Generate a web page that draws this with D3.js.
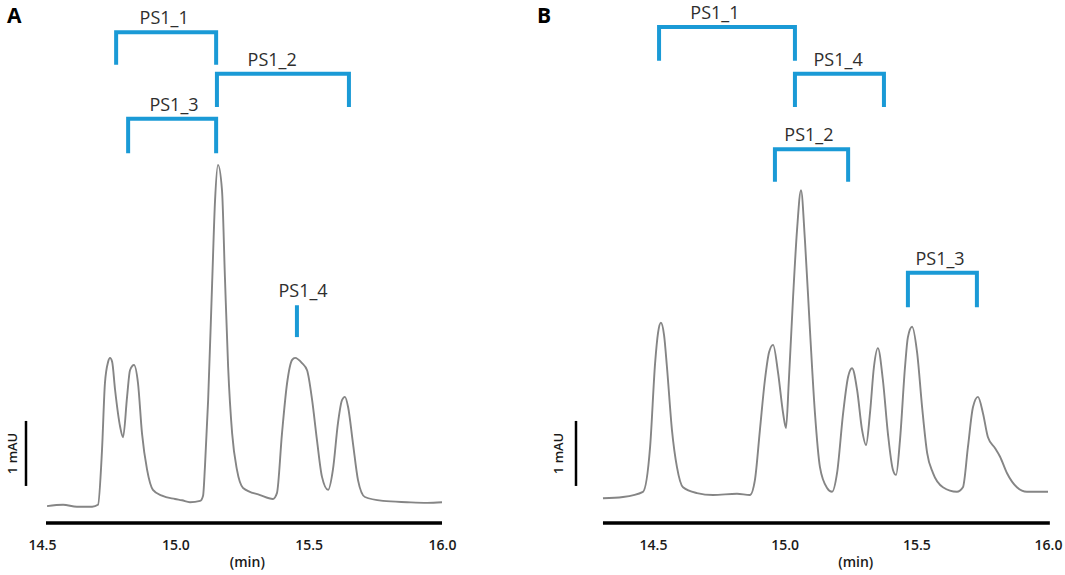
<!DOCTYPE html>
<html>
<head>
<meta charset="utf-8">
<script src="https://cdn.jsdelivr.net/npm/d3@7"></script>
<style>
  body { margin: 0; background: #fff; }
  svg { display: block; }
  text { font-family: "Open Sans", "Noto Sans", sans-serif; }
</style>
</head>
<body>
<svg></svg>
<script>

// retention time (min) and absorbance (mAU above baseline)
var timesA = [14.519, 14.579, 14.631, 14.688, 14.710, 14.725, 14.736, 14.748, 14.755, 14.763,
  14.774, 14.793, 14.804, 14.819, 14.830, 14.845, 14.860, 14.875, 14.894, 14.916,
  14.950, 14.999, 15.025, 15.055, 15.093, 15.104, 15.111, 15.123, 15.138, 15.149,
  15.160, 15.175, 15.186, 15.198, 15.213, 15.231, 15.254, 15.318, 15.366, 15.381,
  15.400, 15.419, 15.438, 15.449, 15.475, 15.494, 15.513, 15.531, 15.550, 15.573,
  15.591, 15.610, 15.625, 15.636, 15.648, 15.666, 15.685, 15.711, 15.779, 15.869,
  15.944, 16.000];
var signalA = [0.06, 0.08, 0.05, 0.05, 0.08, 0.92, 1.95, 2.28, 2.34, 2.28,
  1.85, 1.28, 1.12, 1.74, 2.15, 2.23, 1.95, 1.18, 0.62, 0.31,
  0.22, 0.17, 0.15, 0.12, 0.14, 0.22, 0.66, 1.69, 3.49, 4.77,
  5.31, 4.92, 3.58, 2.20, 1.18, 0.62, 0.34, 0.23, 0.17, 0.26,
  1.18, 1.95, 2.31, 2.34, 2.26, 2.15, 1.69, 1.08, 0.51, 0.31,
  0.62, 1.34, 1.69, 1.74, 1.58, 1.03, 0.46, 0.20, 0.14, 0.12,
  0.11, 0.12];

var timesB = [14.310, 14.386, 14.462, 14.489, 14.508, 14.519, 14.530, 14.542, 14.553, 14.572,
  14.591, 14.614, 14.667, 14.728, 14.819, 14.868, 14.887, 14.906, 14.925, 14.941,
  14.956, 14.975, 14.994, 15.005, 15.016, 15.032, 15.047, 15.062, 15.077, 15.096,
  15.115, 15.134, 15.161, 15.180, 15.199, 15.222, 15.241, 15.256, 15.275, 15.294,
  15.309, 15.324, 15.339, 15.354, 15.373, 15.392, 15.411, 15.423, 15.438, 15.457,
  15.468, 15.484, 15.503, 15.522, 15.541, 15.563, 15.601, 15.654, 15.677, 15.696,
  15.715, 15.734, 15.753, 15.772, 15.799, 15.818, 15.844, 15.882, 15.920, 16.000];
var signalB = [0.18, 0.20, 0.28, 0.97, 2.26, 2.72, 2.88, 2.69, 2.20, 1.23,
  0.66, 0.35, 0.26, 0.23, 0.25, 0.23, 0.46, 1.23, 2.00, 2.43,
  2.54, 2.11, 1.49, 1.26, 2.00, 3.28, 4.31, 4.92, 4.15, 2.77,
  1.49, 0.66, 0.34, 0.28, 0.57, 1.49, 2.05, 2.18, 1.85, 1.23,
  1.00, 1.49, 2.20, 2.49, 2.00, 1.18, 0.62, 0.54, 1.08, 2.20,
  2.66, 2.82, 2.42, 1.58, 0.88, 0.57, 0.35, 0.28, 0.35, 0.97,
  1.58, 1.74, 1.49, 1.12, 0.95, 0.82, 0.57, 0.35, 0.28, 0.28];

var tickValues = [14.5, 15.0, 15.5, 16.0];

// fraction brackets: time span, top / leg end (mAU) and label centre (min)
var bracketsA = [
  { label: "PS1_1", start: 14.778, end: 15.153, top: 7.35, bottom: 6.85, labelAt: 14.958 },
  { label: "PS1_2", start: 15.156, end: 15.651, top: 6.71, bottom: 6.20, labelAt: 15.363 },
  { label: "PS1_3", start: 14.823, end: 15.153, top: 6.02, bottom: 5.49, labelAt: 14.995 },
  { label: "PS1_4", start: 15.456, end: 15.456, top: 3.15, bottom: 2.66, labelAt: 15.479 }
];
var bracketsB = [
  { label: "PS1_1", start: 14.523, end: 15.039, top: 7.43, bottom: 6.91, labelAt: 14.735 },
  { label: "PS1_4", start: 15.039, end: 15.377, top: 6.71, bottom: 6.20, labelAt: 15.203 },
  { label: "PS1_2", start: 14.963, end: 15.241, top: 5.55, bottom: 5.05, labelAt: 15.092 },
  { label: "PS1_3", start: 15.468, end: 15.730, top: 3.65, bottom: 3.12, labelAt: 15.590 }
];

// layout
var config = {
  w: 1065,
  h: 575,
  zeroY: 510,      // pixel of 0 mAU
  pxPerMAU: 65,
  axisY: 523,
  labelGap: 8,
  blue: "#1a9ad6"
};

var panels = [
  { letter: "A", letterX: 7, range: [42, 442], axisSpan: [14.515, 16.0],
    times: timesA, signal: signalA, brackets: bracketsA,
    barX: 26, unitX: 12, barFrom: 0.37 },
  { letter: "B", letterX: 537, range: [653, 1048], axisSpan: [14.31, 16.007],
    times: timesB, signal: signalB, brackets: bracketsB,
    barX: 576, unitX: 558, barFrom: 0.37 }
];

var svg = d3.select("svg")
  .attr("width", config.w)
  .attr("height", config.h);

function translate(x, y) {
  return "translate(" + x + "," + y + ")";
}

panels.forEach(drawPanel);

function drawPanel(p) {
  var x = d3.scaleLinear().domain([14.5, 16.0]).range(p.range);
  var y = d3.scaleLinear().domain([0, 1]).range([config.zeroY, config.zeroY - config.pxPerMAU]);

  var g = svg.append("g");

  // chromatogram trace
  var line = d3.line()
    .curve(d3.curveMonotoneX)
    .x(function(d) { return x(d[0]); })
    .y(function(d) { return y(d[1]); });

  g.append("path")
    .datum(d3.zip(p.times, p.signal))
    .attr("d", line)
    .attr("fill", "none")
    .attr("stroke", "#858585")
    .attr("stroke-width", 1.9)
    .attr("stroke-linejoin", "round");

  // time axis: thick bar plus labels
  g.append("line")
    .attr("x1", x(p.axisSpan[0]))
    .attr("x2", x(p.axisSpan[1]))
    .attr("y1", config.axisY)
    .attr("y2", config.axisY)
    .attr("stroke", "#000")
    .attr("stroke-width", 3.5);

  var axis = d3.axisBottom(x)
    .tickValues(tickValues)
    .tickFormat(d3.format(".1f"))
    .tickSize(0)
    .tickPadding(17);

  var ax = g.append("g")
    .attr("transform", translate(0, config.axisY))
    .call(axis);
  ax.select(".domain").remove();
  ax.selectAll("text")
    .attr("font-family", "'Open Sans', sans-serif")
    .attr("font-size", 14)
    .attr("font-weight", 600)
    .attr("fill", "#1a1a1a");

  g.append("text")
    .attr("x", x(15.27))
    .attr("y", 567)
    .attr("text-anchor", "middle")
    .attr("font-size", 14)
    .attr("font-weight", 600)
    .attr("fill", "#1a1a1a")
    .text("(min)");

  // 1 mAU scale bar
  g.append("line")
    .attr("x1", p.barX)
    .attr("x2", p.barX)
    .attr("y1", y(p.barFrom))
    .attr("y2", y(p.barFrom + 1))
    .attr("stroke", "#000")
    .attr("stroke-width", 2.5);

  g.append("text")
    .attr("transform", translate(p.unitX, y(p.barFrom + 0.5)) + " rotate(-90)")
    .attr("text-anchor", "middle")
    .attr("dy", "0.35em")
    .attr("font-size", 13)
    .attr("font-weight", 600)
    .attr("fill", "#1a1a1a")
    .text("1 mAU");

  // fraction brackets
  var b = g.selectAll("g.bracket")
    .data(p.brackets)
    .enter()
    .append("g")
      .attr("class", "bracket");

  b.append("path")
    .attr("d", function(d) {
      if (d.start === d.end) {
        return "M" + x(d.start) + "," + y(d.top) + "V" + y(d.bottom);
      }
      return "M" + x(d.start) + "," + y(d.bottom)
        + "V" + y(d.top)
        + "H" + x(d.end)
        + "V" + y(d.bottom);
    })
    .attr("fill", "none")
    .attr("stroke", config.blue)
    .attr("stroke-width", 4)
    .attr("stroke-linejoin", "miter");

  b.append("text")
    .attr("x", function(d) { return x(d.labelAt); })
    .attr("y", function(d) { return y(d.top) - config.labelGap; })
    .attr("text-anchor", "middle")
    .attr("font-size", 18)
    .attr("fill", "#2e2e2e")
    .text(function(d) { return d.label; });

  // panel letter
  g.append("text")
    .attr("x", p.letterX)
    .attr("y", 23)
    .attr("font-family", "'Liberation Sans', Arial, sans-serif")
    .attr("font-weight", "bold")
    .attr("font-size", 21)
    .attr("fill", "#000")
    .text(p.letter);
}
</script>
</body>
</html>
